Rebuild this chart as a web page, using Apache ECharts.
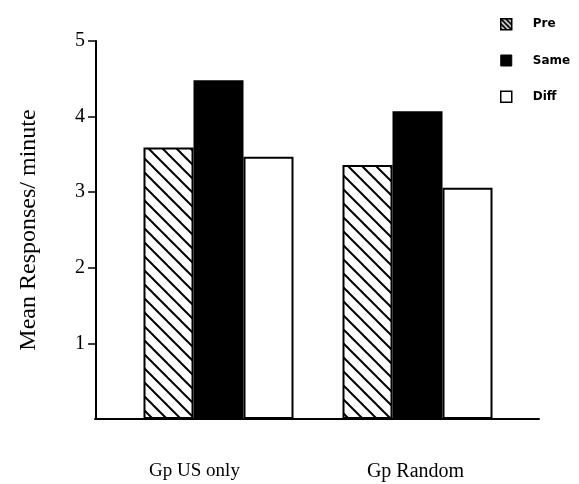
<!DOCTYPE html>
<html>
<head>
<meta charset="utf-8">
<script src="https://cdn.jsdelivr.net/npm/echarts@6/dist/echarts.min.js"></script>
<style>html,body{margin:0;padding:0;background:#fff;}#c{width:579px;height:484px;}</style>
</head>
<body>
<div id="c"></div>
<script>
const categories = ['Gp US only', 'Gp Random'];
const seriesNames = ['Pre', 'Same', 'Diff'];
const preValues = [3.59, 3.36];
const sameValues = [4.48, 4.07];
const diffValues = [3.47, 3.06];
const yTickValues = [1, 2, 3, 4, 5];

function hatch(size, lw) {
  const c = document.createElement('canvas');
  c.width = size; c.height = size;
  const g = c.getContext('2d');
  g.fillStyle = '#fff'; g.fillRect(0, 0, size, size);
  g.strokeStyle = '#000'; g.lineWidth = lw;
  [[0, 0, size, size], [-size, 0, 0, size], [0, -size, size, 0]].forEach(function (l) {
    g.beginPath(); g.moveTo(l[0] - 1, l[1] - 1); g.lineTo(l[2] + 1, l[3] + 1); g.stroke();
  });
  return { image: c, repeat: 'repeat' };
}
const barHatch = hatch(14, 2);
const iconHatch = hatch(5, 2);

const serif = 'Liberation Serif';
const chart = echarts.init(document.getElementById('c'), null, { renderer: 'canvas' });
chart.setOption({
  animation: false,
  backgroundColor: '#fff',
  legend: {
    orient: 'vertical', left: 495, top: 13, itemWidth: 11, itemHeight: 11, itemGap: 24,
    icon: 'rect',
    textStyle: { fontFamily: 'DejaVu Sans', fontSize: 12, fontWeight: 'bold', color: '#000', lineHeight: 12, padding: [0, 0, 0, 16] },
    data: [
      { name: 'Pre', itemStyle: { color: iconHatch, borderColor: '#000', borderWidth: 1.5 } },
      { name: 'Same', itemStyle: { color: '#000', borderColor: '#000', borderWidth: 1 } },
      { name: 'Diff', itemStyle: { color: '#fff', borderColor: '#000', borderWidth: 1.5 } }
    ]
  },
  grid: [
    { left: 119, width: 398, top: 41, height: 378, containLabel: false },
    { left: 95, width: 444, top: 41, height: 378, containLabel: false }
  ],
  xAxis: [
    {
      type: 'category', gridIndex: 0, data: categories,
      axisLine: { show: false }, axisTick: { show: false },
      axisLabel: {
        margin: 43,
        formatter: function (v, i) { return i === 0 ? '{a|' + v + '}' : '{b|' + v + '}'; },
        rich: {
          a: { fontFamily: serif, fontSize: 19, color: '#000', padding: [0, 48, 0, 0] },
          b: { fontFamily: serif, fontSize: 20, color: '#000', padding: [0, 4, 0, 0] }
        }
      }
    },
    {
      type: 'category', gridIndex: 1, data: categories,
      axisLine: { show: true, lineStyle: { color: '#000', width: 2 } },
      axisTick: { show: false }, axisLabel: { show: false }
    }
  ],
  yAxis: [
    {
      type: 'value', gridIndex: 0, min: 0, max: 5, interval: 1, offset: 23,
      name: 'Mean Responses/ minute', nameLocation: 'middle', nameGap: 55,
      nameTextStyle: { fontFamily: serif, fontSize: 24, color: '#000' },
      splitLine: { show: false },
      axisLine: { show: true, lineStyle: { color: '#000', width: 2 } },
      axisTick: { show: true, length: 8, customValues: yTickValues, lineStyle: { color: '#000', width: 1.5 } },
      axisLabel: { margin: 11, customValues: yTickValues, fontFamily: serif, fontSize: 20, color: '#000' }
    },
    { type: 'value', gridIndex: 1, min: 0, max: 5, show: false }
  ],
  series: [
    { name: seriesNames[0], type: 'bar', data: preValues, barWidth: 50, barGap: '0%',
      itemStyle: { color: barHatch, borderColor: '#000', borderWidth: 2 } },
    { name: seriesNames[1], type: 'bar', data: sameValues, barWidth: 50, barGap: '0%',
      itemStyle: { color: '#000', borderColor: '#000', borderWidth: 2 } },
    { name: seriesNames[2], type: 'bar', data: diffValues, barWidth: 50, barGap: '0%',
      itemStyle: { color: '#fff', borderColor: '#000', borderWidth: 2 } }
  ]
});
</script>
</body>
</html>
